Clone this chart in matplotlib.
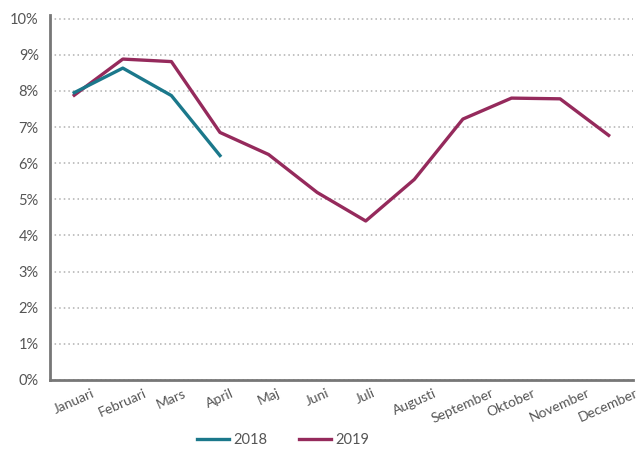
import matplotlib
matplotlib.use("Agg")
import matplotlib.pyplot as plt
from matplotlib.ticker import FuncFormatter

months = ["Januari", "Februari", "Mars", "April", "Maj", "Juni", "Juli",
          "Augusti", "September", "Oktober", "November", "December"]
values_2018 = [7.95, 8.63, 7.87, 6.21]
values_2019 = [7.88, 8.88, 8.81, 6.85, 6.24, 5.19, 4.40, 5.55, 7.22, 7.80, 7.78, 6.77]
yticks = list(range(0, 11))

plt.rcParams['font.family'] = ['Lato', 'DejaVu Sans']

fig = plt.figure(figsize=(6.4, 4.54), dpi=100)
ax = fig.add_axes([0.078, 0.163, 0.911, 0.804])

c18 = "#1b788b"
c19 = "#952a5c"
x18 = list(range(len(values_2018)))
x19 = list(range(len(values_2019)))
ax.plot(x18, values_2018, color=c18, lw=2.4, label="2018", zorder=3)
ax.plot(x19, values_2019, color=c19, lw=2.4, label="2019", zorder=2)

ax.set_xlim(-0.5, 11.5)
ax.set_ylim(0, 10.1)
ax.set_yticks(yticks)
ax.yaxis.set_major_formatter(FuncFormatter(lambda v, p: f"{int(v)}%"))
ax.set_xticks(x19)
ax.set_xticklabels(months, rotation=24, ha="center", rotation_mode="default")

ax.grid(axis="y", linestyle=(0, (1.0, 2.0)), color="#b0b0b0", lw=1.1)
ax.set_axisbelow(True)
for s in ["top", "right"]:
    ax.spines[s].set_visible(False)
ax.spines["left"].set_color("#777777")
ax.spines["left"].set_linewidth(2)
ax.spines["bottom"].set_color("#777777")
ax.spines["bottom"].set_linewidth(2)
ax.tick_params(axis="both", length=0, colors="#555555", labelsize=10.5)
ax.tick_params(axis="x", labelsize=10, pad=5)
ax.tick_params(axis="y", pad=8)

ax.legend(loc="center", bbox_to_anchor=(0.40, -0.165), ncol=2, frameon=False,
          fontsize=10.5, handlelength=2.2, handletextpad=0.3, columnspacing=2.2,
          labelcolor="#555555")

fig.savefig("out.png", dpi=100)
